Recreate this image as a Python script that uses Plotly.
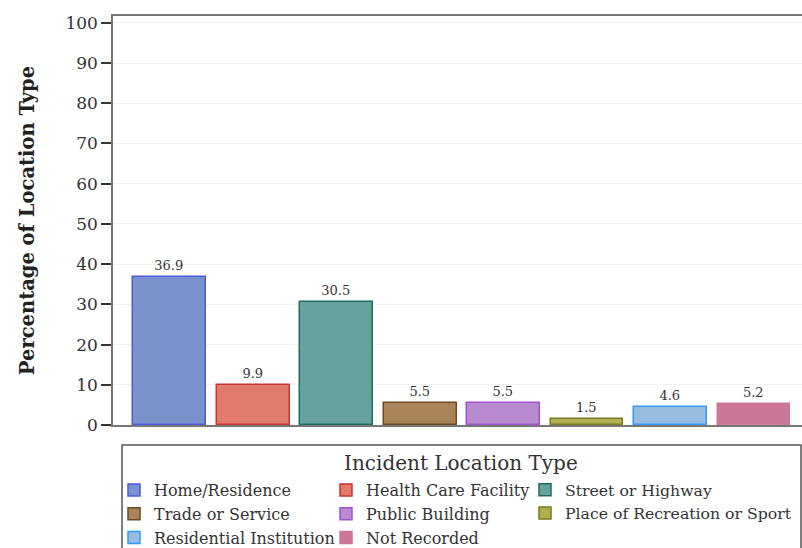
import plotly.graph_objects as go

categories = ['Home/Residence', 'Health Care Facility', 'Street or Highway',
              'Trade or Service', 'Public Building', 'Place of Recreation or Sport',
              'Residential Institution', 'Not Recorded']
percentages = [36.9, 9.9, 30.5, 5.5, 5.5, 1.5, 4.6, 5.2]
fill_colors = ['#7b93cc', '#e07b6c', '#66a39e', '#a98459',
               '#b98ad0', '#b0b050', '#94bde0', '#cc7799']
line_colors = ['#4a5ae0', '#cc3333', '#1e6e66', '#6b4a22',
               '#a050d0', '#7a7a20', '#3399ff', '#cc7799']
y_ticks = [0, 10, 20, 30, 40, 50, 60, 70, 80, 90, 100]

# legend is laid out in three columns, filled row by row (like the SAS legend)
legend_ids = ['legend', 'legend2', 'legend3']

FONT = 'DejaVu Serif'
W, H = 802, 548
L, T, B = 113, 16, 123
PW, PH = W - L, H - T - B

fig = go.Figure()
for i, (name, val) in enumerate(zip(categories, percentages)):
    fig.add_trace(go.Bar(
        x=[i], y=[val], name=name, width=0.874,
        legend=legend_ids[i % 3],
        marker=dict(color=fill_colors[i], line=dict(color=line_colors[i], width=1.5)),
        text=[f'{val:.1f}'], textposition='outside', cliponaxis=False,
        textfont=dict(family=FONT, size=13, color='#333'),
    ))

# legend frame and title
fig.add_shape(type='rect', xref='paper', yref='paper',
              x0=(122 - L) / PW, x1=(801 - L) / PW,
              y0=-(445 - (T + PH)) / PH, y1=-(570 - (T + PH)) / PH,
              line=dict(color='#555', width=1.5), fillcolor='rgba(0,0,0,0)')
fig.add_annotation(text='Incident Location Type', xref='paper', yref='paper',
                   x=(460.5 - L) / PW, y=-(463 - (T + PH)) / PH,
                   xanchor='center', yanchor='middle', showarrow=False,
                   font=dict(family=FONT, size=20, color='#333'))


def col_legend(x_px, size):
    return dict(orientation='v', xref='paper', yref='container',
                x=(x_px - L) / PW, y=1 - 473 / H, xanchor='left', yanchor='top',
                font=dict(family=FONT, size=size, color='#333'),
                borderwidth=0, tracegroupgap=0, bgcolor='rgba(0,0,0,0)')


fig.update_layout(
    width=W, height=H,
    margin=dict(l=L, r=0, t=T, b=B),
    paper_bgcolor='white', plot_bgcolor='white',
    font=dict(family=FONT, color='#222'),
    showlegend=True,
    legend=col_legend(114, 16),
    legend2=col_legend(326, 16),
    legend3=col_legend(525, 15.7),
    bargap=0,
)
fig.update_xaxes(range=[-0.677, 7.575], showticklabels=False, ticks='',
                 showline=True, linecolor='#777', linewidth=1.5, mirror=True,
                 showgrid=False, zeroline=False)
fig.update_yaxes(range=[0, 101.7], tickvals=y_ticks, ticks='outside', ticklen=10,
                 tickcolor='#333', tickwidth=2, automargin=False,
                 tickfont=dict(family=FONT, size=17, color='#333'),
                 showline=True, linecolor='#777', linewidth=1.5, mirror=True,
                 showgrid=True, gridcolor='#f0f0f0', zeroline=False,
                 title=dict(text='<b>Percentage of Location Type</b>',
                            font=dict(family=FONT, size=19.5, color='#222'),
                            standoff=26))

# drop the default 8px body margin so the figure fills the window
fig.write_html('out.html', config={'displayModeBar': False},
               post_script="document.body.style.margin='0';")
